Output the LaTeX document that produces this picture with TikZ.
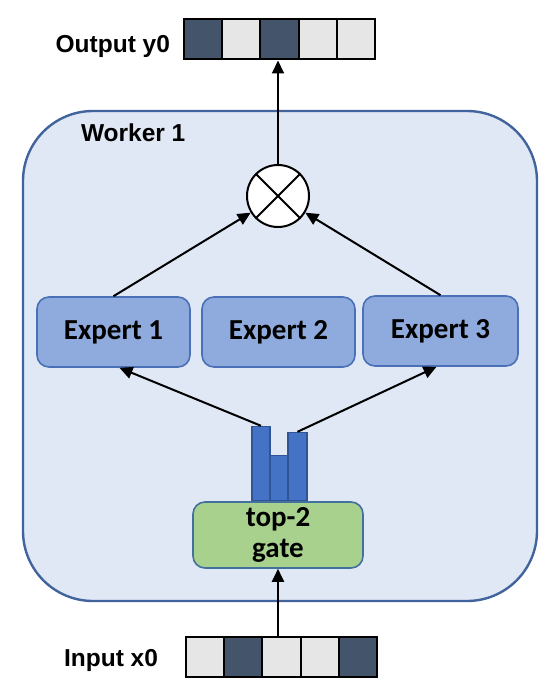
\documentclass[tikz,border=0pt]{standalone}
\usepackage{fontspec}
\setmainfont{Liberation Sans}
\newfontfamily\carlito{Carlito}
\usetikzlibrary{matrix, positioning, arrows.meta, calc}

\definecolor{workerfill}{HTML}{DFE8F4}
\definecolor{workerline}{HTML}{41649E}
\definecolor{expertfill}{HTML}{8FAADC}
\definecolor{expertline}{HTML}{4A70B8}
\definecolor{gatefill}{HTML}{A9D18E}
\definecolor{gateline}{HTML}{41719C}
\definecolor{barfill}{HTML}{4472C4}
\definecolor{barline}{HTML}{2F5597}
\definecolor{celldark}{HTML}{44546A}
\definecolor{celllight}{HTML}{E7E6E6}

\begin{document}
\begin{tikzpicture}[
    x=1pt, y=-1pt, >={Triangle[length=13pt, width=12pt]}, line width=2pt,
    worker_box/.style={draw=workerline, fill=workerfill, rounded corners=70pt, line width=2.4pt},
    expert/.style    ={draw=expertline, fill=expertfill, rounded corners=12pt, line width=1.6pt,
                       minimum width=153pt, minimum height=70pt, font=\carlito\bfseries\fontsize{29}{33}\selectfont},
    gate_box/.style  ={draw=gateline, fill=gatefill, rounded corners=12pt, line width=1.6pt, align=center,
                       minimum width=170pt, minimum height=66pt, font=\carlito\bfseries\fontsize{29}{33}\selectfont},
    bar/.style       ={draw=barline, fill=barfill, line width=1.4pt, minimum width=18pt, inner sep=0pt, anchor=south},
    cell/.style      ={draw=black, line width=2pt, minimum width=38.2pt, minimum height=40pt, inner sep=0pt},
    dark/.style      ={cell, fill=celldark},
    light/.style     ={cell, fill=celllight},
    txt_bold/.style  ={font=\bfseries\fontsize{24.5}{28}\selectfont, inner sep=0pt},
    vec/.style       ={matrix of nodes, nodes in empty cells, nodes={light}, column sep=-2pt,
                       inner sep=0pt, outer sep=0pt}
]
\path[use as bounding box, fill=white] (0,0) rectangle (551,698);

% Worker frame
\node[worker_box, minimum width=514pt, minimum height=490pt] (worker) at (280,356) {};
\node[txt_bold, anchor=base west] (worker_lbl) at (80,142) {Worker 1};

% Output and input vectors
\matrix (Y) [vec] at (279.5,39.5) {
    |[dark]| & & |[dark]| & & \\
};
\node[txt_bold, anchor=base east] (out_lbl) at (171,53) {Output y0};

\matrix (X) [vec] at (281.5,657) {
    & |[dark]| & & & |[dark]| \\
};
\node[txt_bold, anchor=base east] (in_lbl) at (159,666) {Input x0};

% Combine
\node[circle, draw, fill=white, minimum size=62pt, inner sep=0pt] (mult) at (278,196) {};
\draw (mult.north west) -- (mult.south east);
\draw (mult.north east) -- (mult.south west);

% Experts
\node[expert] (exp1) at (113.5,332) {Expert 1};
\node[expert] (exp2) at (278.5,332) {Expert 2};
\node[expert, minimum width=155pt] (exp3) at (440.5,331) {Expert 3};

% Gate with scores
\node[gate_box] (gate) at (278,535) {top-2\\[-2pt]gate};
\node[bar, minimum height=74pt] (bar1) at ($(gate.north)+(-17,0)$) {};
\node[bar, minimum height=45pt] (bar2) at ($(gate.north)+(1,0)$) {};
\node[bar, minimum height=68pt, minimum width=19pt] (bar3) at ($(gate.north)+(19.5,0)$) {};

% Arrows
\draw[->] (gate.south |- X.north) -- (gate.south);
\draw[->] (bar1.north) -- ($(exp1.south)+(6,0)$);
\draw[->] (bar3.north) -- ($(exp3.south)+(-4,0)$);
\draw[->] (exp1.north) -- (mult);
\draw[->] (exp3.north) -- (mult);
\draw[->] (mult.north) -- (mult.north |- Y.south);

\end{tikzpicture}
\end{document}
